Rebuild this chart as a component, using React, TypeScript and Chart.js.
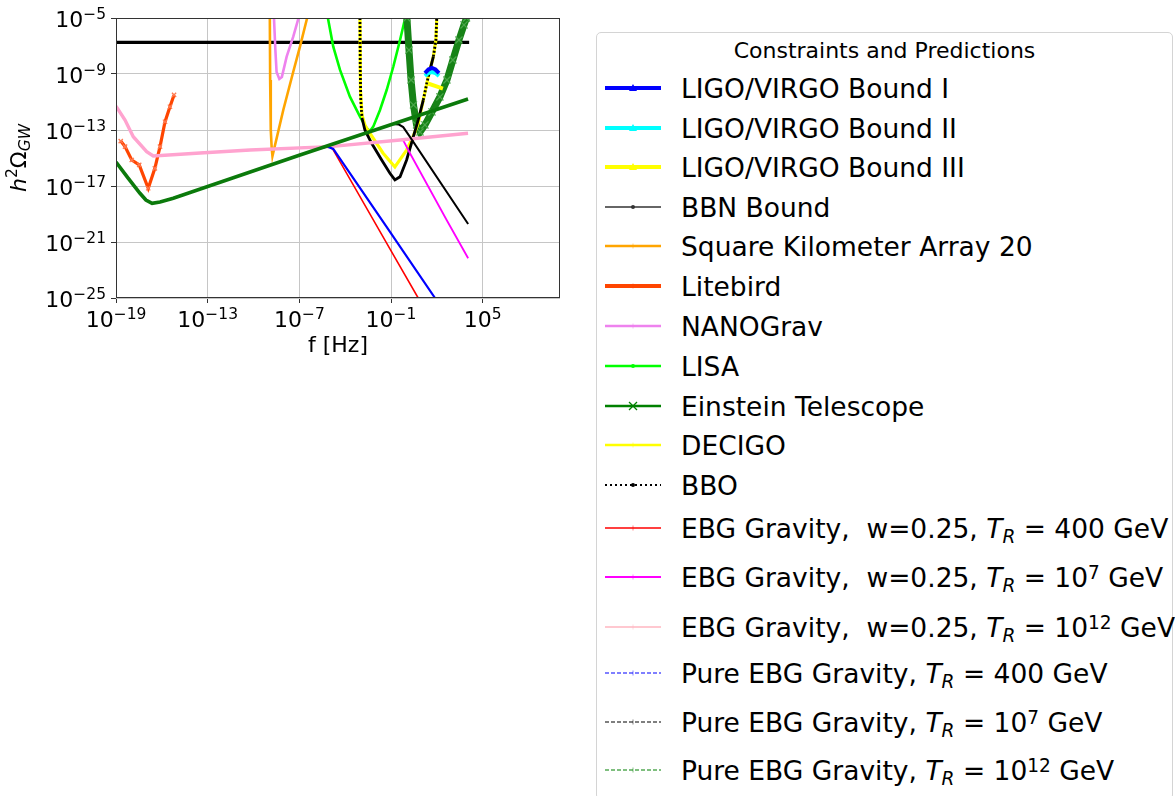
import React, { useEffect, useRef } from "react";
import { Chart, registerables } from "chart.js";

Chart.register(...registerables);

type Pt = [number, number];

// ---------- axes ----------
const xTickValues = [1e-19, 1e-13, 1e-7, 1e-1, 1e5];
const yTickValues = [1e-25, 1e-21, 1e-17, 1e-13, 1e-9, 1e-5];
const xMin = 1e-19;
const xMax = 1.15e10;
const yMin = 1e-25;
const yMax = 1e-5;

// ---------- series: [f (Hz), h^2 Omega_GW] ----------
const ligoBound1: Pt[] = [[16.6, 1.17e-9], [28, 2.1e-9], [48, 2.7e-9], [81, 2.1e-9], [138, 1.17e-9]];
const ligoBound2: Pt[] = [[16.6, 7.2e-10], [28, 1.17e-9], [48, 1.38e-9], [81, 1.17e-9], [138, 7.2e-10]];
const ligoBound3: Pt[] = [[26, 2.1e-10], [76, 1.4e-10], [250, 9.1e-11]];
const bbnBound: Pt[] = [[1e-19, 1.8e-7], [1.3e4, 1.8e-7]];
const ska20: Pt[] = [
  [1.17e-9, 1e-5], [1.23e-9, 3.7e-10], [1.35e-9, 1e-13], [1.55e-9, 5.1e-15], [1.74e-9, 1.38e-15],
  [8.9e-9, 2.7e-12], [4.0e-8, 1.45e-9], [1.1e-7, 8.9e-8], [3.0e-7, 7.2e-6], [3.24e-7, 1e-5],
];
const litebird: Pt[] = [
  [2.04e-19, 1.62e-14], [3.9e-19, 6.5e-15], [1.07e-18, 7.2e-16], [3.3e-18, 3.2e-16], [1.29e-17, 6.9e-18],
  [3.5e-17, 1.82e-16], [7.6e-17, 6.5e-15], [1.62e-16, 3.9e-13], [3.4e-16, 4.6e-12], [6.3e-16, 3.2e-11],
];
const nanograv: Pt[] = [
  [2.19e-9, 1e-5], [2.7e-9, 5.1e-8], [3.24e-9, 1.38e-9], [4.9e-9, 4.4e-10], [7.2e-9, 6.2e-10],
  [1.48e-8, 1.74e-8], [4.0e-8, 4.6e-7], [8.5e-8, 8.5e-6], [8.7e-8, 1e-5],
];
const lisa: Pt[] = [
  [7.4e-6, 1e-5], [1.66e-5, 8.9e-8], [4.6e-5, 1.95e-9], [2.04e-4, 2.4e-11], [9.3e-4, 8.9e-13],
  [2.57e-3, 1.32e-13], [4.2e-3, 8.5e-14], [6.9e-3, 1.74e-13], [1.9e-2, 2.7e-12], [5.2e-2, 7.2e-11],
  [0.141, 3.3e-9], [0.39, 2.7e-7], [0.85, 1e-5],
];
const einsteinTelescope: Pt[] = [
  [1.1, 1e-5], [1.5, 5.1e-8], [2.05, 3.7e-10], [2.95, 6.2e-12], [4.7, 2.3e-13], [7.9, 7.2e-14],
  [16.6, 2.3e-13], [48, 1.95e-12], [158, 2.3e-11], [457, 3.7e-10], [1120, 1e-8], [2800, 2.7e-7],
  [6000, 3.2e-6], [8700, 1e-5],
];
const decigo: Pt[] = [
  [9.3e-4, 1e-5], [1.0e-3, 7.2e-11], [1.26e-3, 1.17e-12], [1.95e-3, 2.3e-13], [3.0e-3, 1e-13],
  [2.95e-2, 2.3e-15], [0.18, 2.3e-16], [1.05, 3.7e-15], [2.75, 3.2e-14], [6.0, 3.0e-13],
  [12.9, 1.38e-11], [27.5, 6.5e-10], [59, 1.74e-8], [87, 2.7e-7], [98, 7.2e-6], [98, 1e-5],
];
const bbo: Pt[] = [
  [9.3e-4, 1e-5], [9.7e-4, 1.95e-9], [1.05e-3, 1.38e-11], [1.26e-3, 7.2e-13], [1.95e-3, 1e-13],
  [5.4e-3, 1.12e-14], [2.45e-2, 7.2e-16], [8.5e-2, 8.1e-17], [0.18, 2.7e-17], [0.39, 4.6e-17],
  [1.05, 7.2e-16], [2.9, 3.3e-14], [6.0, 5.1e-13], [12.9, 1.38e-11], [27.5, 6.5e-10],
  [59, 1.74e-8], [87, 2.7e-7], [98, 1e-5],
];
const ebgW025TR400: Pt[] = [
  [1e-19, 5.1e-12], [3.9e-19, 5.1e-13], [1.35e-18, 3.3e-14], [1.02e-17, 2.8e-15], [2.75e-17, 1.38e-15],
  [3.2e-14, 2.3e-15], [5.9e-11, 3.7e-15], [1.02e-5, 6.5e-15], [1.58e-5, 4.1e-15], [8.5e-2, 3.2e-22],
  [6.0, 1e-25], [35, 3.7e-27],
];
const ebgW025TR1e7: Pt[] = [
  [1e-19, 5.1e-12], [3.9e-19, 5.1e-13], [1.35e-18, 3.3e-14], [1.02e-17, 2.8e-15], [2.75e-17, 1.38e-15],
  [3.2e-14, 2.3e-15], [5.9e-11, 3.7e-15], [1.02e-5, 6.5e-15], [0.39, 1.95e-14], [0.63, 1.8e-14],
  [1.74, 2.2e-15], [437, 3.7e-20], [1.12e4, 6.9e-23],
];
const ebgW025TR1e12: Pt[] = [
  [1e-19, 5.1e-12], [3.9e-19, 5.1e-13], [1.35e-18, 3.3e-14], [1.02e-17, 2.8e-15], [2.75e-17, 1.38e-15],
  [3.2e-14, 2.3e-15], [5.9e-11, 3.7e-15], [1.02e-5, 6.5e-15], [0.39, 1.95e-14], [1.1e4, 5.8e-14],
];
const pureEbgTR400: Pt[] = [
  [1.66e-6, 4.4e-15], [6.5e-6, 6.6e-15], [1.66e-5, 4.4e-15], [3.5e-2, 2.2e-20], [76, 1e-25], [339, 8.9e-27],
];
const pureEbgTR1e7: Pt[] = [
  [0.115, 2.7e-13], [0.33, 2.45e-13], [0.63, 1.62e-13], [1.74, 3.2e-14], [1.12e4, 1.95e-20],
];
const pureEbgTR1e12: Pt[] = [
  [1e-19, 5.1e-16], [6.2e-19, 3.7e-17], [3.7e-18, 3.0e-18], [9.1e-18, 1e-18], [2.3e-17, 5.8e-19],
  [7.6e-17, 7.2e-19], [5.6e-16, 1.32e-18], [1.1e-7, 1.62e-15], [1.1e4, 1.62e-11],
];

// ---------- styles ----------
type Style = {
  color: string; width: number; dotSteep?: boolean; marker?: string; markerColor?: string; markerR?: number; z: number;
};
const plotSeries: { data: Pt[]; s: Style }[] = [
  { data: ligoBound1, s: { color: "#0000ff", width: 4, z: 30 } },
  { data: ligoBound2, s: { color: "#00ffff", width: 4, z: 29 } },
  { data: ligoBound3, s: { color: "#ffff00", width: 4, z: 28 } },
  { data: bbnBound, s: { color: "#000000", width: 3.2, z: 4 } },
  { data: ska20, s: { color: "#ffa500", width: 2.6, z: 5 } },
  { data: litebird, s: { color: "#ff4500", width: 3.2, marker: "crossRot", markerColor: "#ff7a50", markerR: 3, z: 6 } },
  { data: nanograv, s: { color: "#ee82ee", width: 2.6, z: 7 } },
  { data: lisa, s: { color: "#00ff00", width: 2.6, z: 8 } },
  { data: einsteinTelescope, s: { color: "#178317", width: 7, marker: "crossRot", markerColor: "#4aa64a", markerR: 5, z: 9 } },
  { data: decigo, s: { color: "#ffff00", width: 3.2, z: 10 } },
  { data: bbo, s: { color: "#000000", width: 2.8, dotSteep: true, z: 11 } },
  { data: ebgW025TR400, s: { color: "#ff0000", width: 1.6, z: 12 } },
  { data: ebgW025TR1e7, s: { color: "#ff00ff", width: 1.8, z: 13 } },
  { data: ebgW025TR1e12, s: { color: "#ffa3cf", width: 3.4, z: 14 } },
  { data: pureEbgTR400, s: { color: "#0000ff", width: 2.2, z: 15 } },
  { data: pureEbgTR1e7, s: { color: "#000000", width: 2, z: 16 } },
  { data: pureEbgTR1e12, s: { color: "#0b7a0b", width: 3.6, z: 17 } },
];

const FONT = '"DejaVu Sans"';

function drawPow(ctx: CanvasRenderingContext2D, v: number, x: number, baseline: number, align: "right" | "center") {
  const e = Math.round(Math.log10(v));
  const base = "10";
  const sup = e < 0 ? "\u2212" + Math.abs(e) : String(e);
  ctx.font = `22px ${FONT}`;
  const wb = ctx.measureText(base).width;
  ctx.font = `15.5px ${FONT}`;
  const ws = ctx.measureText(sup).width;
  const total = wb + ws;
  const left = align === "right" ? x - total : x - total / 2;
  ctx.textAlign = "left";
  ctx.textBaseline = "alphabetic";
  ctx.font = `22px ${FONT}`;
  ctx.fillText(base, left, baseline);
  ctx.font = `15.5px ${FONT}`;
  ctx.fillText(sup, left + wb, baseline - 8.5);
}

const decorPlugin = {
  id: "decor",
  afterDatasetsDraw(chart: any) {
    const { ctx, chartArea: a } = chart;
    ctx.save();
    ctx.strokeStyle = "#333333";
    ctx.lineWidth = 1;
    ctx.strokeRect(a.left + 0.5, a.top + 0.5, a.right - a.left - 1, a.bottom - a.top - 1);
    ctx.restore();
  },
  afterDraw(chart: any) {
    const { ctx, chartArea: a, scales } = chart;
    ctx.save();
    ctx.fillStyle = "#000";
    for (const v of xTickValues) drawPow(ctx, v, scales.x.getPixelForValue(v), 327, "center");
    for (const v of yTickValues) drawPow(ctx, v, 106, scales.y.getPixelForValue(v) + 9, "right");
    ctx.font = `22px ${FONT}`;
    ctx.textAlign = "center";
    ctx.textBaseline = "alphabetic";
    ctx.fillText("f [Hz]", (a.left + a.right) / 2, 352);
    // y label h^2 Omega_GW
    ctx.translate(25.5, (a.top + a.bottom) / 2);
    ctx.rotate(-Math.PI / 2);
    const parts = [
      { t: "h", f: `italic 22px ${FONT}`, dy: 0 },
      { t: "2", f: `15.5px ${FONT}`, dy: -8.5 },
      { t: "\u03a9", f: `22px ${FONT}`, dy: 0 },
      { t: "GW", f: `italic 15.5px ${FONT}`, dy: 4.5 },
    ];
    let total = 0;
    const widths = parts.map((p) => {
      ctx.font = p.f;
      const w = ctx.measureText(p.t).width;
      total += w;
      return w;
    });
    let x = -total / 2;
    ctx.textAlign = "left";
    parts.forEach((p, i) => {
      ctx.font = p.f;
      ctx.fillText(p.t, x, p.dy);
      x += widths[i];
    });
    ctx.restore();
  },
};

function ChartCanvas() {
  const ref = useRef<HTMLCanvasElement | null>(null);
  useEffect(() => {
    if (!ref.current) return;
    const chart = new Chart(ref.current, {
      type: "line",
      data: {
        datasets: plotSeries.map((p) => ({
          data: p.data.map(([x, y]) => ({ x, y })),
          borderColor: p.s.color,
          backgroundColor: p.s.color,
          borderWidth: p.s.width,
          borderDash: p.s.dotSteep ? [2, 2] : [],
          segment: p.s.dotSteep
            ? {
                borderDash: (c: any) =>
                  Math.abs(c.p1.y - c.p0.y) > 4.5 * Math.abs(c.p1.x - c.p0.x) ? [2, 2] : [],
              }
            : undefined,
          fill: false,
          tension: 0,
          order: -p.s.z,
          pointRadius: p.s.marker ? p.s.markerR : 0,
          pointStyle: (p.s.marker as any) || "circle",
          pointBorderColor: p.s.markerColor || p.s.color,
          pointBorderWidth: 1.3,
          pointHoverRadius: 0,
          pointHitRadius: 0,
        })),
      },
      options: {
        animation: false,
        responsive: false,
        devicePixelRatio: 1,
        events: [],
        layout: { padding: { left: 0, top: 18, right: 30, bottom: 0 } },
        plugins: { legend: { display: false }, tooltip: { enabled: false } },
        scales: {
          x: {
            type: "logarithmic",
            min: xMin,
            max: xMax,
            afterBuildTicks: (s: any) => {
              s.ticks = xTickValues.map((value) => ({ value }));
            },
            afterFit: (s: any) => {
              s.height = 72;
            },
            ticks: { display: false },
            border: { display: false },
            grid: { color: "#c6c6c6", lineWidth: 1, tickColor: "#333333", tickLength: 5, drawTicks: true },
          },
          y: {
            type: "logarithmic",
            min: yMin,
            max: yMax,
            afterBuildTicks: (s: any) => {
              s.ticks = yTickValues.map((value) => ({ value }));
            },
            afterFit: (s: any) => {
              s.width = 116;
            },
            ticks: { display: false },
            border: { display: false },
            grid: { color: "#c6c6c6", lineWidth: 1, tickColor: "#333333", tickLength: 5, drawTicks: true },
          },
        },
      } as any,
      plugins: [decorPlugin],
    });
    return () => chart.destroy();
  }, []);
  return <canvas ref={ref} width={590} height={370} style={{ position: "absolute", left: 0, top: 0 }} />;
}

// ---------- legend ----------
const supS: React.CSSProperties = { fontSize: "0.7em", verticalAlign: "0.45em", lineHeight: 0 };
const subS: React.CSSProperties = { fontSize: "0.7em", verticalAlign: "-0.25em", lineHeight: 0, fontStyle: "italic" };
const TR = (
  <>
    <span style={{ fontStyle: "italic" }}>T</span>
    <span style={subS}>R</span>
  </>
);

type Row = { label: React.ReactNode; color: string; width: number; dash?: string; marker?: string; y: number };
const legendRows: Row[] = [
  { label: "LIGO/VIRGO Bound I", color: "#0000ff", width: 4, marker: "tri", y: 88 },
  { label: "LIGO/VIRGO Bound II", color: "#00ffff", width: 4, marker: "tri", y: 128 },
  { label: "LIGO/VIRGO Bound III", color: "#ffff00", width: 4, marker: "tri", y: 167 },
  { label: "BBN Bound", color: "#333333", width: 1.3, marker: "dot", y: 207 },
  { label: "Square Kilometer Array 20", color: "#ffa500", width: 2.6, marker: "plus", y: 246 },
  { label: "Litebird", color: "#ff4500", width: 4, marker: "plus", y: 286 },
  { label: "NANOGrav", color: "#ee82ee", width: 2.6, marker: "plus", y: 326 },
  { label: "LISA", color: "#00ff00", width: 2.6, marker: "dot", y: 366 },
  { label: "Einstein Telescope", color: "#008000", width: 2.6, marker: "x", y: 406 },
  { label: "DECIGO", color: "#ffff00", width: 2.6, marker: "plus", y: 445 },
  { label: "BBO", color: "#000000", width: 2, dash: "2 3", marker: "dot", y: 485 },
  { label: <>{"EBG Gravity,  w=0.25, "}{TR}{" = 400 GeV"}</>, color: "#ff0000", width: 1.4, marker: "plus", y: 528 },
  { label: <>{"EBG Gravity,  w=0.25, "}{TR}{" = 10"}<span style={supS}>7</span>{" GeV"}</>, color: "#ff00ff", width: 1.8, marker: "plus", y: 577 },
  { label: <>{"EBG Gravity,  w=0.25, "}{TR}{" = 10"}<span style={supS}>12</span>{" GeV"}</>, color: "#ffb6c1", width: 1.4, marker: "plus", y: 627 },
  { label: <>{"Pure EBG Gravity, "}{TR}{" = 400 GeV"}</>, color: "#0000ff", width: 1.2, dash: "4 2", marker: "plus", y: 673 },
  { label: <>{"Pure EBG Gravity, "}{TR}{" = 10"}<span style={supS}>7</span>{" GeV"}</>, color: "#000000", width: 1.2, dash: "4 2", marker: "plus", y: 722 },
  { label: <>{"Pure EBG Gravity, "}{TR}{" = 10"}<span style={supS}>12</span>{" GeV"}</>, color: "#008000", width: 1.2, dash: "4 2", marker: "plus", y: 770 },
];

function Handle({ r }: { r: Row }) {
  const c = 28;
  let m: React.ReactNode = null;
  if (r.marker === "tri") m = <polygon points={`${c - 4},15 ${c + 4},15 ${c},8`} fill={r.color} />;
  else if (r.marker === "dot") m = <circle cx={c} cy={12} r={2} fill={r.color} />;
  else if (r.marker === "x")
    m = (
      <g stroke={r.color} strokeWidth={1.3}>
        <line x1={c - 4} y1={8} x2={c + 4} y2={16} />
        <line x1={c - 4} y1={16} x2={c + 4} y2={8} />
      </g>
    );
  else if (r.marker === "plus")
    m = (
      <g stroke={r.color} strokeWidth={0.8} opacity={0.6}>
        <line x1={c} y1={9.5} x2={c} y2={14.5} />
      </g>
    );
  return (
    <svg width={56} height={24} style={{ position: "absolute", left: 605, top: r.y - 12 }}>
      <line x1={0} y1={12} x2={56} y2={12} stroke={r.color} strokeWidth={r.width} strokeDasharray={r.dash} />
      {m}
    </svg>
  );
}

function Legend() {
  return (
    <>
      <div
        style={{
          position: "absolute",
          left: 596,
          top: 32,
          width: 577,
          height: 768,
          border: "1px solid #d4d4d4",
          borderRadius: 5,
          background: "#fff",
          boxSizing: "border-box",
        }}
      />
      <div
        style={{
          position: "absolute",
          left: 596,
          width: 577,
          top: 51 - 12.6,
          textAlign: "center",
          fontSize: 22,
          lineHeight: "26px",
          whiteSpace: "pre",
        }}
      >
        Constraints and Predictions
      </div>
      {legendRows.map((r, i) => (
        <React.Fragment key={i}>
          <Handle r={r} />
          <div
            style={{
              position: "absolute",
              left: 681,
              top: r.y - 15.5,
              fontSize: 26.5,
              lineHeight: "32px",
              whiteSpace: "pre",
            }}
          >
            {r.label}
          </div>
        </React.Fragment>
      ))}
    </>
  );
}

export default function App() {
  return (
    <div
      style={{
        position: "absolute",
        left: 0,
        top: 0,
        width: 1175,
        height: 796,
        overflow: "hidden",
        background: "#fff",
        fontFamily: FONT,
        color: "#000",
      }}
    >
      <ChartCanvas />
      <Legend />
    </div>
  );
}
